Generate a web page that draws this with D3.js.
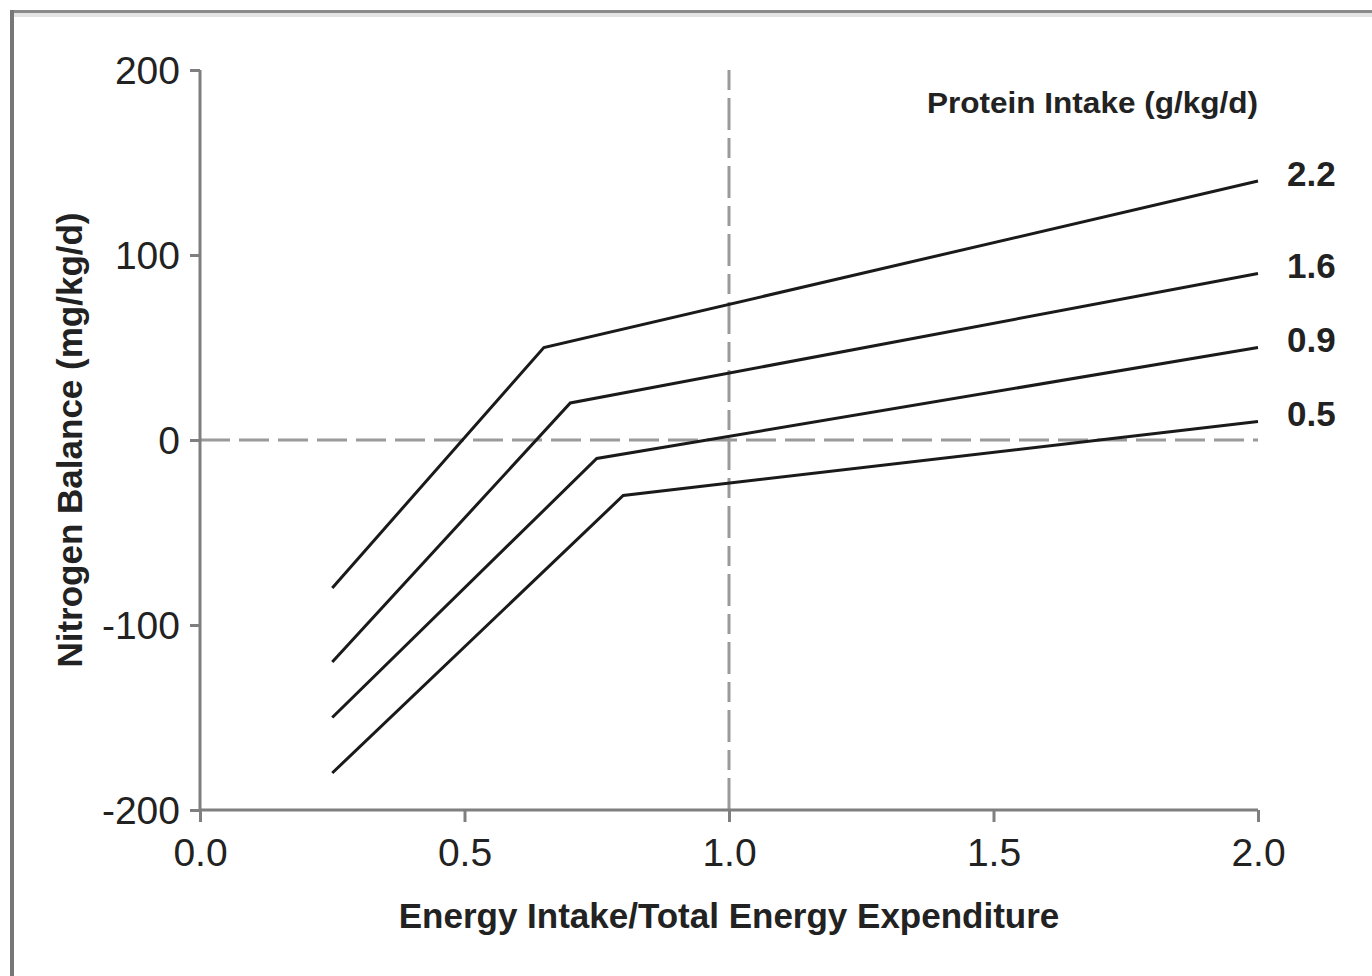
<!DOCTYPE html>
<html>
<head>
<meta charset="utf-8">
<script src="https://cdn.jsdelivr.net/npm/d3@7"></script>
<style>
  html, body { margin: 0; padding: 0; background: #fff; }
  svg { display: block; }
  text { font-family: "Liberation Sans", Arial, sans-serif; }
</style>
</head>
<body>
<svg id="chart" width="1372" height="976"></svg>
<script>
// ---- data ----
const proteinIntake = ["2.2", "1.6", "0.9", "0.5"];
const energyRatio = [
  [0.25, 0.65, 2.0],
  [0.25, 0.70, 2.0],
  [0.25, 0.75, 2.0],
  [0.25, 0.80, 2.0]
];
const nitrogenBalance = [
  [-80, 50, 140],
  [-120, 20, 90],
  [-150, -10, 50],
  [-180, -30, 10]
];
const xTicks = [0.0, 0.5, 1.0, 1.5, 2.0];
const yTicks = [-200, -100, 0, 100, 200];
const xTitle = "Energy Intake/Total Energy Expenditure";
const yTitle = "Nitrogen Balance (mg/kg/d)";
const legendTitle = "Protein Intake (g/kg/d)";

// ---- layout ----
const svg = d3.select("#chart");
const W = 1372, H = 976;
const x = d3.scaleLinear().domain([0, 2]).range([200, 1258]);
const y = d3.scaleLinear().domain([-200, 200]).range([810, 70]);

// frame (top and left)
svg.append("rect").attr("x", 10).attr("y", 13).attr("width", W - 10).attr("height", 4).attr("fill", "#e3e3e3");
svg.append("rect").attr("x", 10).attr("y", 10).attr("width", W - 10).attr("height", 3).attr("fill", "#8a8a8a");
svg.append("rect").attr("x", 10).attr("y", 10).attr("width", 4).attr("height", H - 10).attr("fill", "#777");

const axisColor = "#7f7f7f";
const labelColor = "#222";

// reference dashed lines
svg.append("line")
  .attr("x1", x(0)).attr("x2", x(2)).attr("y1", y(0)).attr("y2", y(0))
  .attr("stroke", "#9a9a9a").attr("stroke-width", 3).attr("stroke-dasharray", "30,9");
svg.append("line")
  .attr("x1", x(1)).attr("x2", x(1)).attr("y1", y(200)).attr("y2", y(-200))
  .attr("stroke", "#9a9a9a").attr("stroke-width", 3).attr("stroke-dasharray", "20,8,32,8");

// axes
const xAxis = d3.axisBottom(x).tickValues(xTicks).tickFormat(d3.format(".1f")).tickSize(12).tickPadding(12);
const yAxis = d3.axisLeft(y).tickValues(yTicks).tickFormat(d => String(d)).tickSize(10).tickPadding(10);

const gx = svg.append("g").attr("transform", `translate(0,${y(-200)})`).call(xAxis);
const gy = svg.append("g").attr("transform", `translate(${x(0)},0)`).call(yAxis);

[gx, gy].forEach(g => {
  g.select(".domain").attr("stroke", axisColor).attr("stroke-width", 3);
  g.selectAll(".tick line").attr("stroke", axisColor).attr("stroke-width", 3);
  g.selectAll(".tick text")
    .attr("fill", labelColor)
    .style("font-size", "39px")
    .style("font-family", "'Liberation Sans', Arial, sans-serif");
});
gx.select(".domain").attr("d", `M${x(0)},0H${x(2)}`);
gy.select(".domain").attr("d", `M0,${y(200)}V${y(-200)}`);
gx.selectAll(".tick text").attr("dy", null).attr("y", 0).attr("dominant-baseline", "alphabetic")
  .attr("transform", "translate(0,56)");
gy.selectAll(".tick text").attr("dy", null).attr("dominant-baseline", "central");

// data lines
const line = d3.line().x(d => x(d[0])).y(d => y(d[1]));
proteinIntake.forEach((p, i) => {
  const pts = energyRatio[i].map((e, j) => [e, nitrogenBalance[i][j]]);
  svg.append("path")
    .attr("d", line(pts))
    .attr("fill", "none")
    .attr("stroke", "#1a1a1a")
    .attr("stroke-width", 3)
    .attr("stroke-linejoin", "miter");
  const last = pts[pts.length - 1];
  svg.append("text")
    .attr("x", x(last[0]) + 29)
    .attr("y", y(last[1]) - 8)
    .attr("dominant-baseline", "central")
    .attr("fill", labelColor)
    .style("font-size", "35px")
    .style("font-weight", "bold")
    .text(p);
});

// legend title
svg.append("text")
  .attr("x", x(2)).attr("y", 113)
  .attr("text-anchor", "end")
  .attr("fill", labelColor)
  .attr("textLength", 331)
  .attr("lengthAdjust", "spacingAndGlyphs")
  .style("font-size", "30px")
  .style("font-weight", "bold")
  .text(legendTitle);

// axis titles
svg.append("text")
  .attr("x", (x(0) + x(2)) / 2).attr("y", 928)
  .attr("text-anchor", "middle")
  .attr("fill", labelColor)
  .style("font-size", "35px")
  .style("font-weight", "bold")
  .text(xTitle);

svg.append("text")
  .attr("transform", `translate(82,${(y(200) + y(-200)) / 2}) rotate(-90)`)
  .attr("text-anchor", "middle")
  .attr("fill", labelColor)
  .style("font-size", "35px")
  .style("font-weight", "bold")
  .text(yTitle);
</script>
</body>
</html>
